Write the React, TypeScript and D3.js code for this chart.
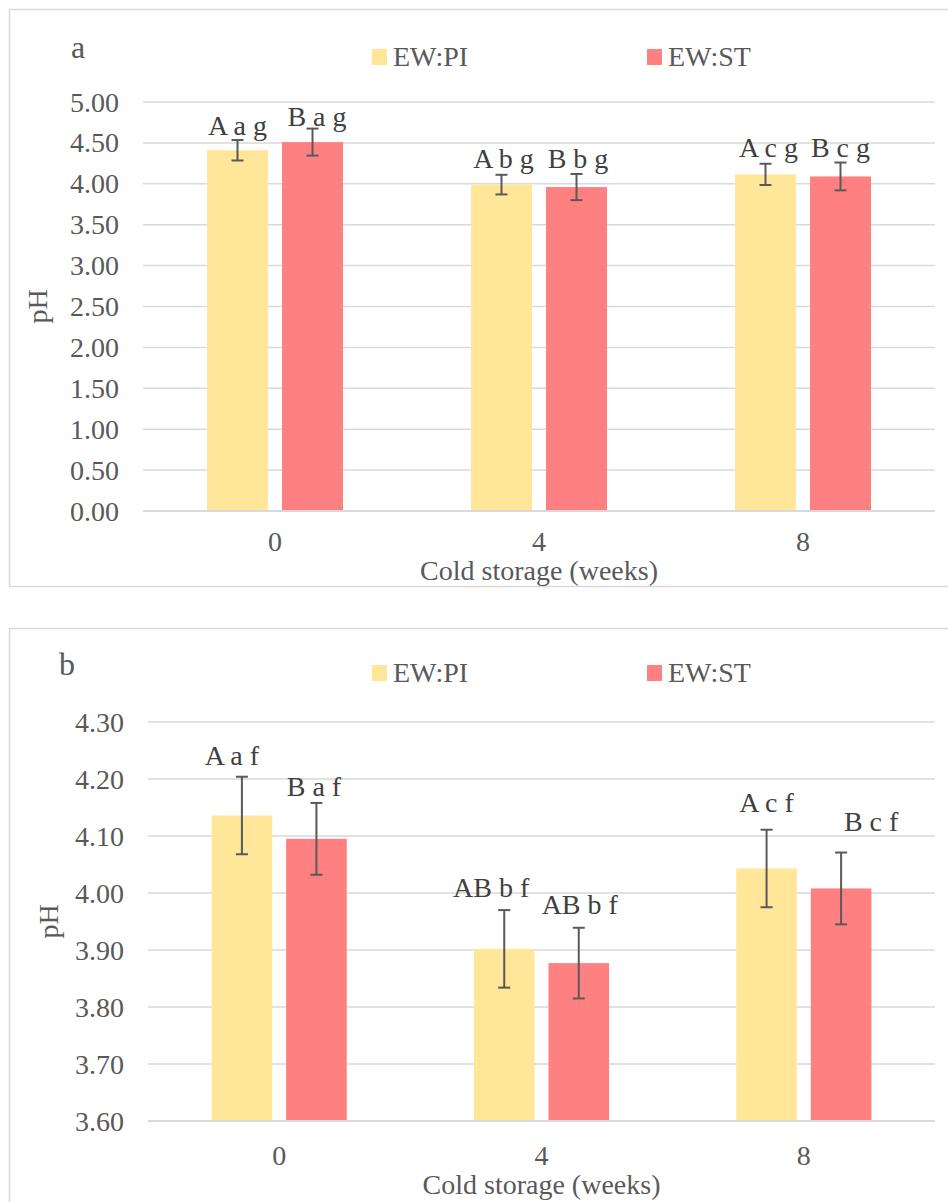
import React from "react";
import * as d3 from "d3";

// Cold storage time points (weeks)
const weeks = ["0", "4", "8"];
const seriesNames = ["EW:PI", "EW:ST"];
const seriesColors = ["#FFE699", "#FF8080"];

// Panel a: pH, full scale
const phA_PI = [4.41, 3.99, 4.115];
const phA_ST = [4.51, 3.96, 4.09];
const sdA_PI = [0.125, 0.12, 0.13];
const sdA_ST = [0.165, 0.16, 0.17];
const lettersA_PI = ["A a g", "A b g", "A c g"];
const lettersA_ST = ["B a g", "B b g", "B c g"];
const ticksA = [0, 0.5, 1, 1.5, 2, 2.5, 3, 3.5, 4, 4.5, 5];

// Panel b: pH, zoomed scale
const phB_PI = [4.136, 3.902, 4.043];
const phB_ST = [4.095, 3.877, 4.008];
const sdB_PI = [0.068, 0.068, 0.068];
const sdB_ST = [0.063, 0.062, 0.063];
const lettersB_PI = ["A a f", "AB b f", "A c f"];
const lettersB_ST = ["B a f", "AB b f", "B c f"];
const ticksB = [3.6, 3.7, 3.8, 3.9, 4.0, 4.1, 4.2, 4.3];

const FONT = '"Liberation Serif", "DejaVu Serif", serif';
const TEXT = "#595959";
const GRID = "#d9d9d9";

type Layout = {
  frameTop: number;
  frameBottom: number;
  plotLeft: number;
  plotRight: number;
  plotTop: number;
  plotBottom: number;
  domain: [number, number];
  tickRight: number;
  titleX: number;
  tag: string;
  tagX: number;
  tagY: number;
  legendY: number;
  tickY: number;
  xTitleY: number;
  // label nudges (px) relative to the top of each error bar: [PI row, ST row]
  labelDx: number[][];
  labelDy: number[][];
};

type PanelData = {
  values: number[][];
  errors: number[][];
  letters: string[][];
  ticks: number[];
};

const layoutA: Layout = {
  frameTop: 9,
  frameBottom: 586,
  plotLeft: 143,
  plotRight: 935,
  plotTop: 102,
  plotBottom: 511,
  domain: [0, 5],
  tickRight: 119,
  titleX: 47,
  tag: "a",
  tagX: 71,
  tagY: 58,
  legendY: 66,
  tickY: 551,
  xTitleY: 580,
  labelDx: [
    [0, 2, 3],
    [4.5, 1.5, 0],
  ],
  labelDy: [
    [-5, -7, -7],
    [-3, -6, -6],
  ],
};

const layoutB: Layout = {
  frameTop: 628,
  frameBottom: 1230,
  plotLeft: 148,
  plotRight: 935,
  plotTop: 722,
  plotBottom: 1121,
  domain: [3.6, 4.3],
  tickRight: 124,
  titleX: 58,
  tag: "b",
  tagX: 59,
  tagY: 675,
  legendY: 682,
  tickY: 1165,
  xTitleY: 1194,
  labelDx: [
    [-10, -13, 0],
    [-2.5, 1, 30],
  ],
  labelDy: [
    [-12, -13, -18],
    [-7, -14, -22],
  ],
};

const dataA: PanelData = {
  values: [phA_PI, phA_ST],
  errors: [sdA_PI, sdA_ST],
  letters: [lettersA_PI, lettersA_ST],
  ticks: ticksA,
};

const dataB: PanelData = {
  values: [phB_PI, phB_ST],
  errors: [sdB_PI, sdB_ST],
  letters: [lettersB_PI, lettersB_ST],
  ticks: ticksB,
};

function Label(props: React.SVGProps<SVGTextElement>) {
  return <text fontFamily={FONT} fill={TEXT} fontSize={28} {...props} />;
}

function Panel({ L, D }: { L: Layout; D: PanelData }) {
  const x = d3
    .scaleBand<string>()
    .domain(weeks)
    .range([L.plotLeft, L.plotRight])
    .paddingInner(0)
    .paddingOuter(0);
  const y = d3.scaleLinear().domain(L.domain).range([L.plotBottom, L.plotTop]);
  const bw = x.bandwidth();
  const inner = d3
    .scaleBand<number>()
    .domain([0, 1])
    .range([-bw * 0.2576, bw * 0.2576])
    .paddingInner(0.1867);
  const fmt = d3.format(".2f");
  const capHalf = 6;

  return (
    <g>
      <rect
        x={9.5}
        y={L.frameTop + 0.5}
        width={960}
        height={L.frameBottom - L.frameTop}
        fill="#fff"
        stroke={GRID}
        strokeWidth={1.5}
      />
      <Label x={L.tagX} y={L.tagY} fontSize={32}>
        {L.tag}
      </Label>
      {/* legend */}
      {seriesNames.map((s, i) => {
        const lx = 372 + i * 275;
        return (
          <g key={s}>
            <rect x={lx} y={L.legendY - 17} width={15} height={16} fill={seriesColors[i]} />
            <Label x={lx + 21} y={L.legendY}>
              {s}
            </Label>
          </g>
        );
      })}
      {/* gridlines and y ticks */}
      {D.ticks.map((t) => (
        <g key={t}>
          <line x1={L.plotLeft} x2={L.plotRight} y1={y(t)} y2={y(t)} stroke={GRID} strokeWidth={1.5} />
          <Label x={L.tickRight} y={y(t)} dy="0.34em" textAnchor="end">
            {fmt(t)}
          </Label>
        </g>
      ))}
      {/* bars */}
      {weeks.map((w, wi) =>
        [0, 1].map((si) => {
          const cx0 = (x(w) as number) + bw / 2;
          const bx = cx0 + (inner(si) as number);
          const v = D.values[si][wi];
          return (
            <rect
              key={w + si}
              x={bx}
              y={y(v)}
              width={inner.bandwidth()}
              height={L.plotBottom - y(v)}
              fill={seriesColors[si]}
            />
          );
        })
      )}
      {/* baseline */}
      <line x1={L.plotLeft} x2={L.plotRight} y1={L.plotBottom} y2={L.plotBottom} stroke={GRID} strokeWidth={2} />
      {/* error bars and letters */}
      {weeks.map((w, wi) =>
        [0, 1].map((si) => {
          const cx0 = (x(w) as number) + bw / 2;
          const cx = cx0 + (inner(si) as number) + inner.bandwidth() / 2;
          const v = D.values[si][wi];
          const e = D.errors[si][wi];
          const yt = y(v + e);
          const yb = y(v - e);
          return (
            <g key={"e" + w + si}>
              <line x1={cx} x2={cx} y1={yt} y2={yb} stroke="#595959" strokeWidth={2} />
              <line x1={cx - capHalf} x2={cx + capHalf} y1={yt} y2={yt} stroke="#595959" strokeWidth={2} />
              <line x1={cx - capHalf} x2={cx + capHalf} y1={yb} y2={yb} stroke="#595959" strokeWidth={2} />
              <Label
                x={cx + L.labelDx[si][wi]}
                y={yt + L.labelDy[si][wi]}
                textAnchor="middle"
                fill="#404040"
                style={{ whiteSpace: "pre" }}
              >
                {D.letters[si][wi]}
              </Label>
            </g>
          );
        })
      )}
      {/* x tick labels */}
      {weeks.map((w) => (
        <Label key={"t" + w} x={(x(w) as number) + bw / 2} y={L.tickY} textAnchor="middle">
          {w}
        </Label>
      ))}
      <Label x={(L.plotLeft + L.plotRight) / 2} y={L.xTitleY} textAnchor="middle">
        Cold storage (weeks)
      </Label>
      <Label
        transform={`translate(${L.titleX},${(L.plotTop + L.plotBottom) / 2}) rotate(-90)`}
        textAnchor="middle"
      >
        pH
      </Label>
    </g>
  );
}

export default function App() {
  return (
    <svg width={948} height={1202} style={{ position: "absolute", left: 0, top: 0, background: "#fff" }}>
      <rect width={948} height={1202} fill="#fff" />
      <Panel L={layoutA} D={dataA} />
      <Panel L={layoutB} D={dataB} />
    </svg>
  );
}
